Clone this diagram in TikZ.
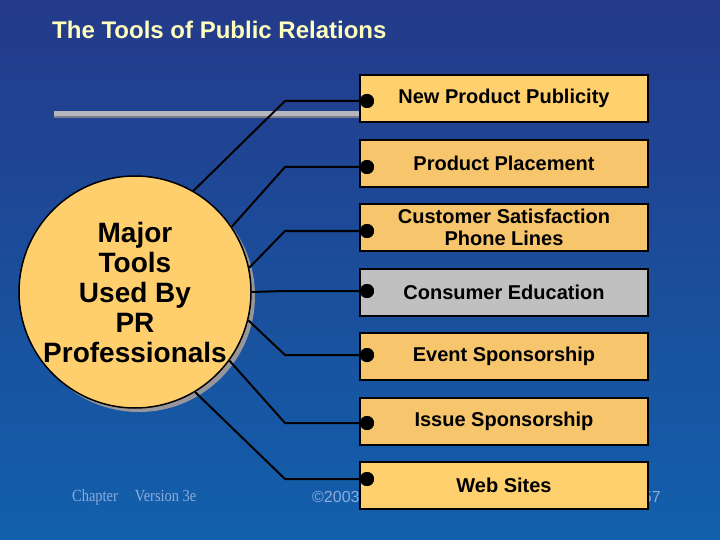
\documentclass[tikz,border=0pt]{standalone}
\usepackage{fontspec}
\setmainfont{Liberation Sans}
\newfontfamily\footserif[FakeStretch=0.85]{Liberation Serif}
\definecolor{bgtop}{RGB}{36,58,138}
\definecolor{bgbot}{RGB}{18,96,172}
\definecolor{titleyellow}{RGB}{255,255,190}
\definecolor{boxlight}{RGB}{255,208,110}
\definecolor{boxorange}{RGB}{246,197,108}
\definecolor{boxgray}{RGB}{192,192,192}
\definecolor{circfill}{RGB}{255,207,110}
\definecolor{shadowgray}{RGB}{150,150,155}
\definecolor{barlight}{RGB}{182,182,190}
\definecolor{bardark}{RGB}{120,125,140}
\definecolor{foot}{RGB}{140,170,220}
\begin{document}
\begin{tikzpicture}[x=1pt,y=-1pt,
  box/.style={draw=black,line width=2pt,fill=boxorange,minimum width=288pt,minimum height=47pt,inner sep=0pt,font=\bfseries\fontsize{20}{22}\selectfont,align=center},
  dot/.style={circle,fill=black,minimum size=14pt,inner sep=0pt},
  link/.style={line width=2pt,black},
  foottext/.style={text=foot,inner sep=0pt,font=\fontsize{16}{18}\selectfont}]
\shade[top color=bgtop,bottom color=bgbot] (0,0) rectangle (720,540);
\useasboundingbox (0,0) rectangle (720,540);
% title
\node[anchor=west,inner sep=0pt,text=titleyellow,font=\bfseries\fontsize{24}{28}\selectfont] (title) at (52,30) {The Tools of Public Relations};
% gray bar
\fill[barlight] (54,111) rectangle (359,116);
\fill[bardark] (54,116) rectangle (359,118);
% footer
\node[foottext,anchor=west,font=\footserif\fontsize{17}{19}\selectfont] (chap) at (72,497) {Chapter\quad Version 3e};
\node[foottext,anchor=west] (copy) at (312,497) {©2003 South-Western};
\node[foottext,anchor=east] (page) at (661,497) {Slide 57};
% circle
\node[circle,fill=shadowgray,minimum size=232pt,inner sep=0pt] (sh) at (139,296) {};
\node[circle,draw=black,line width=1.5pt,fill=circfill,minimum size=232pt,inner sep=0pt,align=center,
      font=\bfseries\fontsize{28}{30}\selectfont] (c) at (135,292) {Major\\Tools\\Used By\\PR\\Professionals};
% boxes
\node[box,fill=boxlight] (b1) at (504,98.5) {New Product Publicity};
\node[box] (b2) at (504,163.5) {Product Placement};
\node[box] (b3) at (504,227.5) {Customer Satisfaction\\Phone Lines};
\node[box,fill=boxgray] (b4) at (504,292.5) {Consumer Education};
\node[box] (b5) at (504,356.5) {Event Sponsorship};
\node[box] (b6) at (504,421.5) {Issue Sponsorship};
\node[box,fill=boxlight] (b7) at (504,485.5) {Web Sites};
% elbows
\coordinate (e1) at (285,101);
\coordinate (e2) at (285,167);
\coordinate (e3) at (285,231);
\coordinate (e4) at (285,291);
\coordinate (e5) at (285,355);
\coordinate (e6) at (285,423);
\coordinate (e7) at (285,479);
% dots
\node[dot] (d1) at (367,101) {};
\node[dot] (d2) at (367,167) {};
\node[dot] (d3) at (367,231) {};
\node[dot] (d4) at (367,291) {};
\node[dot] (d5) at (367,355) {};
\node[dot] (d6) at (367,423) {};
\node[dot] (d7) at (367,479) {};
% connectors
\draw[link] (c.60) -- (e1) -- (d1.center);
\draw[link] (c.34) -- (e2) -- (d2.center);
\draw[link] (c.12) -- (e3) -- (d3.center);
\draw[link] (c.0) -- (e4) -- (d4.center);
\draw[link] (c.-14) -- (e5) -- (d5.center);
\draw[link] (c.-36) -- (e6) -- (d6.center);
\draw[link] (c.-59) -- (e7) -- (d7.center);
% redraw dots on top
\foreach \d in {d1,d2,d3,d4,d5,d6,d7} \fill[black] (\d) circle (7pt);
\end{tikzpicture}
\end{document}
